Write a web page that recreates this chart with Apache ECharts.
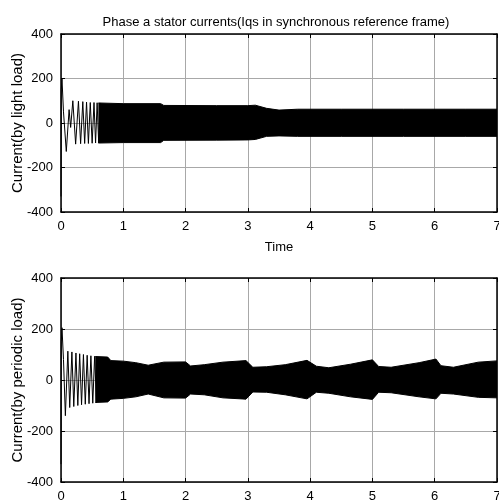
<!DOCTYPE html>
<html>
<head>
<meta charset="utf-8">
<script src="https://cdn.jsdelivr.net/npm/echarts@6/dist/echarts.min.js"></script>
<style>
  html, body { margin: 0; padding: 0; background: #fff; }
  #main { width: 499px; height: 504px; }
</style>
</head>
<body>
<div id="main"></div>
<script>
// light load: start-up transient (individual swings)
const lightStartT = [0, 0.004, 0.016, 0.04, 0.085, 0.13, 0.155, 0.19, 0.235, 0.28, 0.315, 0.35, 0.38, 0.41, 0.44, 0.47, 0.50, 0.53, 0.555, 0.58, 0.605, 0.63];
const lightStartI = [-330, 150, 198, 50, -128, 60, -20, 100, -95, 98, -93, 96, -92, 94, -92, 92, -91, 92, -90, 91, -90, 90];
// light load: envelope of the dense oscillation
const lightEnvT = [0.6, 1.0, 1.6, 1.65, 2.5, 3.0, 3.12, 3.3, 3.5, 3.8, 4.5, 5.5, 6.5, 7.0];
const lightEnvHi = [90, 87, 87, 79, 78, 78, 80, 66, 58, 62, 62, 62, 62, 62];
const lightEnvLo = [-90, -88, -88, -78, -77, -76, -74, -60, -58, -60, -60, -60, -60, -60];

// periodic load: start-up transient
const perStartT = [0, 0.004, 0.016, 0.04, 0.07, 0.11, 0.14, 0.175, 0.205, 0.24, 0.27, 0.30, 0.33, 0.36, 0.39, 0.42, 0.45, 0.48, 0.51, 0.54, 0.57];
const perStartI = [-330, 150, 205, 80, -140, 113, -108, 110, -104, 106, -100, 103, -97, 100, -95, 97, -93, 95, -91, 93, -90];
// periodic load: envelope
const perEnvT = [0.55, 0.75, 0.8, 1.0, 1.2, 1.4, 1.65, 2.0, 2.08, 2.3, 2.6, 2.97, 3.08, 3.3, 3.6, 3.95, 4.1, 4.3, 4.65, 5.0, 5.1, 5.3, 5.75, 6.02, 6.1, 6.3, 6.7, 7.0];
const perEnvHi = [92, 90, 76, 74, 68, 58, 70, 71, 55, 60, 70, 76, 50, 52, 60, 77, 54, 48, 62, 79, 53, 50, 68, 82, 56, 50, 70, 75];
const perEnvLo = [-88, -86, -75, -72, -66, -55, -70, -71, -55, -58, -70, -75, -47, -48, -58, -74, -48, -52, -66, -76, -48, -50, -66, -74, -52, -55, -68, -70];

const pairs = (xs, ys) => xs.map((x, i) => [x, ys[i]]);

const FONT = 'Liberation Sans, Arial, sans-serif';
const gridLine = { show: true, lineStyle: { color: '#a8a8a8', width: 1 } };
const frameLine = { show: true, onZero: false, lineStyle: { color: '#000', width: 1.5 } };

const xAxisPair = (g, withName) => [
  {
    type: 'value', gridIndex: g, min: 0, max: 7, interval: 1, position: 'bottom',
    axisLine: frameLine,
    axisTick: { show: true, inside: true, length: 4, lineStyle: { color: '#000' } },
    axisLabel: { color: '#000', fontSize: 13, fontFamily: FONT, margin: 8 },
    splitLine: gridLine,
    name: withName ? 'Time' : '', nameLocation: 'middle', nameGap: 29, nameMoveOverlap: false,
    nameTextStyle: { color: '#000', fontSize: 13, fontFamily: FONT }
  },
  {
    type: 'value', gridIndex: g, min: 0, max: 7, interval: 1, position: 'top',
    axisLine: frameLine,
    axisTick: { show: true, inside: true, length: 4, lineStyle: { color: '#000' } },
    axisLabel: { show: false }, splitLine: { show: false }
  }
];

const yAxisPair = (g, name) => [
  {
    type: 'value', gridIndex: g, min: -400, max: 400, interval: 200, position: 'left',
    axisLine: frameLine,
    axisTick: { show: true, inside: true, length: 4, lineStyle: { color: '#000' } },
    axisLabel: { color: '#000', fontSize: 13, fontFamily: FONT, margin: 8, padding: [3, 0, 0, 0] },
    splitLine: gridLine,
    name: name, nameLocation: 'middle', nameGap: 36, nameMoveOverlap: false,
    nameTextStyle: { color: '#000', fontSize: 15, fontFamily: FONT }
  },
  {
    type: 'value', gridIndex: g, min: -400, max: 400, interval: 200, position: 'right',
    axisLine: frameLine,
    axisTick: { show: true, inside: true, length: 4, lineStyle: { color: '#000' } },
    axisLabel: { show: false }, splitLine: { show: false }
  }
];

const traceSeries = (xi, yi, data) => ({
  type: 'line', xAxisIndex: xi, yAxisIndex: yi, data: data,
  showSymbol: false, symbol: 'none', animation: false,
  lineStyle: { color: '#000', width: 1 }, z: 5
});

const bandSeries = (xi, yi, data) => ({
  type: 'line', xAxisIndex: xi, yAxisIndex: yi, data: data,
  showSymbol: false, symbol: 'none', animation: false,
  lineStyle: { color: '#000', width: 1 },
  areaStyle: { color: '#000', opacity: 1, origin: 0 }, z: 4
});

const chart = echarts.init(document.getElementById('main'), null, { renderer: 'canvas' });
chart.setOption({
  backgroundColor: '#fff',
  animation: false,
  title: {
    text: 'Phase a stator currents(Iqs in synchronous reference frame)',
    left: 271, top: 11, textAlign: 'center',
    textStyle: { color: '#000', fontSize: 13, fontWeight: 'normal', fontFamily: FONT }
  },
  grid: [
    { left: 61, top: 34, width: 436, height: 178, outerBoundsMode: 'none', containLabel: false },
    { left: 61, top: 278, width: 436, height: 204, outerBoundsMode: 'none', containLabel: false }
  ],
  xAxis: [...xAxisPair(0, true), ...xAxisPair(1, false)],
  yAxis: [...yAxisPair(0, 'Current(by light load)'), ...yAxisPair(1, 'Current(by periodic load)')],
  series: [
    bandSeries(0, 0, pairs(lightEnvT, lightEnvHi)),
    bandSeries(0, 0, pairs(lightEnvT, lightEnvLo)),
    traceSeries(0, 0, pairs(lightStartT, lightStartI)),
    bandSeries(2, 2, pairs(perEnvT, perEnvHi)),
    bandSeries(2, 2, pairs(perEnvT, perEnvLo)),
    traceSeries(2, 2, pairs(perStartT, perStartI))
  ]
});
</script>
</body>
</html>
